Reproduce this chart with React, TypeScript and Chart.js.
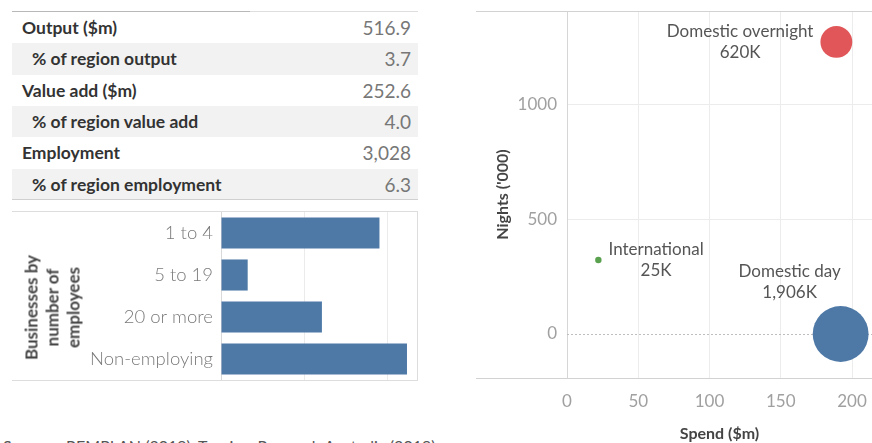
import React, { useEffect, useRef } from "react";
import { Chart, registerables } from "chart.js";

Chart.register(...registerables);

const FONT = "Lato, 'Open Sans', sans-serif";

// ---- Summary table ----
const tableLabels = [
  "Output ($m)",
  "% of region output",
  "Value add ($m)",
  "% of region value add",
  "Employment",
  "% of region employment",
];
const tableValues = [516.9, 3.7, 252.6, 4.0, 3028, 6.3];
const tableDecimals = [1, 1, 1, 1, 0, 1];
const tableIndented = [false, true, false, true, false, true];

// ---- Businesses by number of employees ----
const businessCategories = ["1 to 4", "5 to 19", "20 or more", "Non-employing"];
const businessCounts = [190, 32, 121, 223];
const businessGridTicks = [0, 100, 200];
const businessAxisMax = 235;
const businessAxisTitle = ["Businesses by", "number of", "employees"];

// ---- Visitors: spend vs nights ----
const visitorTypes = ["Domestic overnight", "International", "Domestic day"];
const visitorSpend = [189, 22, 192];
const visitorNights = [1275, 323, 0];
const visitorCounts = [620, 25, 1906]; // thousands of visitors
const visitorColors = ["#E15759", "#59A14F", "#4E79A7"];
const spendTicks = [0, 50, 100, 150, 200];
const nightsTicks = [0, 500, 1000];
const spendRange = [0, 214];
const nightsRange = [-192, 1410];

const sourceText = "Sources: REMPLAN (2019), Tourism Research Australia (2019)";

// label placement style (relative to each bubble)
const labelPlacement = [
  { side: "left", dx: 0 },
  { side: "right", dx: 0 },
  { side: "above", dx: -51 },
];

const bubbleRadius = (k: number) => 0.64 * Math.sqrt(k);

const noPadH = (s: any) => {
  s.paddingLeft = 0;
  s.paddingRight = 0;
};
const noPadV = (s: any) => {
  s.paddingTop = 0;
  s.paddingBottom = 0;
};

function BusinessChart() {
  const ref = useRef<HTMLCanvasElement>(null);
  useEffect(() => {
    const chart = new Chart(ref.current!, {
      type: "bar",
      data: {
        labels: businessCategories,
        datasets: [
          {
            data: businessCounts,
            backgroundColor: "#4E79A7",
            barPercentage: 0.74,
            categoryPercentage: 1,
          },
        ],
      },
      options: {
        animation: false,
        responsive: true,
        maintainAspectRatio: false,
        indexAxis: "y",
        layout: { padding: 0, autoPadding: false },
        plugins: { legend: { display: false }, tooltip: { enabled: false } },
        scales: {
          x: {
            min: 0,
            max: businessAxisMax,
            afterBuildTicks: (s: any) => {
              s.ticks = businessGridTicks.map((v) => ({ value: v }));
            },
            ticks: { display: false },
            grid: {
              color: (c: any) => (c.tick && c.tick.value === 0 ? "rgba(0,0,0,0)" : "#ebebeb"),
              drawTicks: false,
            },
            border: { display: false },
            afterFit: (s: any) => {
              noPadH(s);
              s.height = 0;
            },
          },
          y: {
            ticks: {
              color: "#7a7a7a",
              font: { family: FONT, size: 18.5, weight: 300 as any },
              padding: 8,
            },
            grid: { display: false, drawTicks: false },
            border: { display: true, color: "#d9d9d9" },
            afterFit: (s: any) => {
              noPadV(s);
              s.width = 209;
            },
          },
        },
      },
    });
    return () => chart.destroy();
  }, []);
  return <canvas ref={ref} />;
}

const bubbleDecor = {
  id: "bubbleDecor",
  beforeDatasetsDraw(chart: any) {
    const { ctx, chartArea, scales } = chart;
    const y0 = Math.round(scales.y.getPixelForValue(0)) + 0.5;
    ctx.save();
    ctx.lineWidth = 1;
    ctx.strokeStyle = "#bdbdbd";
    ctx.setLineDash([2, 2]);
    ctx.beginPath();
    ctx.moveTo(chartArea.left, y0);
    ctx.lineTo(chartArea.right, y0);
    ctx.stroke();
    ctx.setLineDash([]);
    ctx.strokeStyle = "#d2d2d2";
    const top = Math.round(chartArea.top) + 0.5;
    const bottom = Math.round(chartArea.bottom) + 0.5;
    ctx.beginPath();
    ctx.moveTo(0, top);
    ctx.lineTo(chart.width, top);
    ctx.moveTo(0, bottom);
    ctx.lineTo(chart.width, bottom);
    ctx.stroke();
    ctx.restore();
  },
  afterDatasetsDraw(chart: any) {
    const { ctx } = chart;
    ctx.save();
    ctx.font = `400 17px ${FONT}`;
    ctx.fillStyle = "#555";
    ctx.textAlign = "center";
    ctx.textBaseline = "middle";
    const lh = 21;
    chart.data.datasets.forEach((ds: any, i: number) => {
      const el = chart.getDatasetMeta(i).data[0];
      if (!el) return;
      const r = ds.data[0].r;
      const lines = [visitorTypes[i], `${visitorCounts[i].toLocaleString("en-US")}K`];
      const w = Math.max(...lines.map((l) => ctx.measureText(l).width));
      const p = labelPlacement[i];
      let cx = el.x;
      let y1 = el.y - lh / 2;
      if (p.side === "left") {
        cx = el.x - r - 7 - w / 2;
      } else if (p.side === "right") {
        cx = el.x + r + 7 + w / 2;
      } else {
        cx = el.x + p.dx;
        y1 = el.y - r - 14 - lh;
      }
      lines.forEach((l, j) => ctx.fillText(l, cx, y1 + j * lh));
    });
    ctx.restore();
  },
};

function VisitorChart() {
  const ref = useRef<HTMLCanvasElement>(null);
  useEffect(() => {
    const chart = new Chart(ref.current!, {
      type: "bubble",
      data: {
        datasets: visitorTypes.map((name, i) => ({
          label: name,
          data: [{ x: visitorSpend[i], y: visitorNights[i], r: bubbleRadius(visitorCounts[i]) }],
          backgroundColor: visitorColors[i],
          borderWidth: 0,
          hoverRadius: 0,
          clip: false as any,
        })),
      },
      options: {
        animation: false,
        responsive: true,
        maintainAspectRatio: false,
        layout: { padding: { top: 11, right: 0, left: 0, bottom: 0 }, autoPadding: false },
        plugins: { legend: { display: false }, tooltip: { enabled: false } },
        scales: {
          x: {
            type: "linear",
            min: spendRange[0],
            max: spendRange[1],
            afterBuildTicks: (s: any) => {
              s.ticks = spendTicks.map((v) => ({ value: v }));
            },
            ticks: {
              color: "#a0a0a0",
              font: { family: FONT, size: 17 },
              padding: 13,
              callback: (v: any) => String(v),
            },
            grid: {
              color: (c: any) => (c.tick && c.tick.value === 0 ? "rgba(0,0,0,0)" : "#ececec"),
              drawTicks: false,
            },
            border: { display: false },
            title: {
              display: true,
              text: "Spend ($m)",
              color: "#444",
              font: { family: FONT, size: 16, weight: "bold" },
              padding: { top: 0, bottom: 0 },
            },
            afterFit: (s: any) => {
              noPadH(s);
              s.height = 65;
            },
          },
          y: {
            type: "linear",
            min: nightsRange[0],
            max: nightsRange[1],
            afterBuildTicks: (s: any) => {
              s.ticks = nightsTicks.map((v) => ({ value: v }));
            },
            ticks: {
              color: "#a0a0a0",
              font: { family: FONT, size: 17 },
              padding: 10,
              callback: (v: any) => String(v),
            },
            grid: {
              color: (c: any) => (c.tick && c.tick.value === 0 ? "rgba(0,0,0,0)" : "#ececec"),
              drawTicks: false,
            },
            border: { display: true, color: "#d6d6d6" },
            title: {
              display: true,
              text: "Nights ('000)",
              color: "#444",
              font: { family: FONT, size: 16, weight: "bold" },
              padding: { top: 17, bottom: 0 },
            },
            afterFit: (s: any) => {
              noPadV(s);
              s.width = 91;
            },
          },
        },
      },
      plugins: [bubbleDecor],
    });
    return () => chart.destroy();
  }, []);
  return <canvas ref={ref} />;
}

export default function App() {
  const rowTop = (i: number) => 12 + i * 31.3;
  return (
    <div
      style={{
        position: "absolute",
        left: 0,
        top: 0,
        width: 872,
        height: 443,
        overflow: "hidden",
        background: "#fff",
        fontFamily: FONT,
      }}
    >
      {/* table top border */}
      <div style={{ position: "absolute", left: 12, top: 11, width: 238, height: 1, background: "#b8b8b8" }} />
      <div style={{ position: "absolute", left: 250, top: 11, width: 168, height: 1, background: "#dedede" }} />
      {tableLabels.map((label, i) => (
        <div
          key={label}
          style={{
            position: "absolute",
            left: 12,
            top: rowTop(i),
            width: 406,
            height: 31.3,
            background: tableIndented[i] ? "#f2f2f2" : "transparent",
            display: "flex",
            alignItems: "center",
            justifyContent: "space-between",
            boxSizing: "border-box",
            paddingLeft: tableIndented[i] ? 20 : 10,
            paddingRight: 7,
          }}
        >
          <span style={{ fontWeight: 700, color: "#333", fontSize: 17.5 }}>{label}</span>
          <span style={{ color: "#777", fontSize: 19 }}>
            {tableValues[i].toLocaleString("en-US", {
              minimumFractionDigits: tableDecimals[i],
              maximumFractionDigits: tableDecimals[i],
            })}
          </span>
        </div>
      ))}
      <div style={{ position: "absolute", left: 12, top: 199, width: 406, height: 1, background: "#d0d0d0" }} />

      {/* businesses bar chart */}
      <div
        style={{
          position: "absolute",
          left: 12,
          top: 211,
          width: 406,
          height: 170,
          boxSizing: "border-box",
          borderTop: "1px solid #dddddd",
          borderBottom: "1px solid #dddddd",
          borderRight: "1px solid #dddddd",
        }}
      >
        <div style={{ position: "relative", width: "100%", height: "100%" }}>
          <BusinessChart />
        </div>
      </div>
      <div
        style={{
          position: "absolute",
          left: 52 - 70,
          top: 307 - 31.5,
          width: 140,
          height: 63,
          transform: "rotate(-90deg)",
          transformOrigin: "center",
          textAlign: "center",
          fontWeight: 700,
          fontSize: 17,
          lineHeight: "21px",
          color: "#444",
        }}
      >
        {businessAxisTitle.map((t) => (
          <div key={t}>{t}</div>
        ))}
      </div>

      {/* visitors bubble chart */}
      <div style={{ position: "absolute", left: 476, top: 0, width: 396, height: 443 }}>
        <div style={{ position: "relative", width: "100%", height: "100%" }}>
          <VisitorChart />
        </div>
      </div>

      <div
        style={{
          position: "absolute",
          left: 3,
          top: 437,
          fontSize: 16,
          lineHeight: "18px",
          color: "#555",
          whiteSpace: "nowrap",
        }}
      >
        {sourceText}
      </div>
    </div>
  );
}
